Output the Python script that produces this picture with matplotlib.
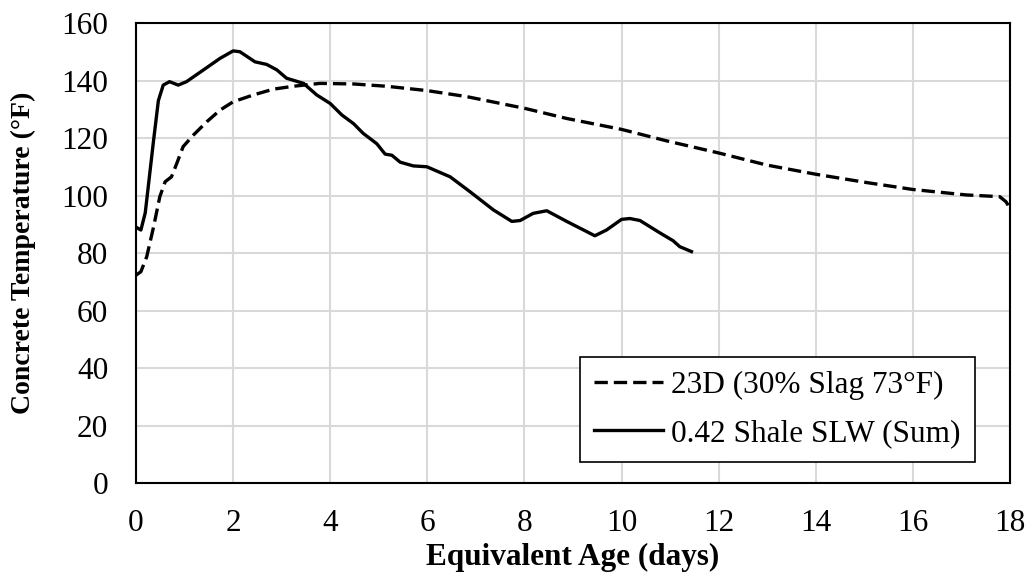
import numpy as np
import matplotlib.pyplot as plt

# 23D (30% Slag 73F) - dashed
age_23d = [0, 0.1, 0.22, 0.36, 0.49, 0.6, 0.73, 0.84, 0.97, 1.18, 1.46, 1.73,
           2.0, 2.42, 2.83, 3.24, 3.79, 4.48, 5.16, 5.99, 6.81, 8.01, 8.87,
           10.0, 10.93, 12.0, 12.99, 14.0, 15.05, 16.0, 17.1, 17.79, 17.92, 18.0]
temp_23d = [72.3, 73.5, 78.7, 89, 99.6, 104.8, 106.5, 111.2, 117, 121, 125.7,
            129.7, 132.6, 135, 137, 138, 139, 138.8, 138, 136.5, 134.4, 130.3,
            126.8, 123, 119, 114.8, 110.6, 107.4, 104.5, 102.1, 100.2, 99.6,
            97.8, 95.5]

# 0.42 Shale SLW (Sum) - solid
age_slw = [0, 0.1, 0.19, 0.36, 0.46, 0.56, 0.69, 0.87, 1.04, 1.39, 1.73, 2.0,
           2.14, 2.45, 2.69, 2.9, 3.1, 3.45, 3.72, 4.0, 4.24, 4.48, 4.68, 4.96,
           5.13, 5.27, 5.44, 5.71, 5.99, 6.47, 6.88, 7.36, 7.74, 7.91, 8.18,
           8.46, 8.87, 9.45, 9.69, 10.0, 10.17, 10.38, 10.79, 11.06, 11.2, 11.44]
temp_slw = [89, 88, 94, 119, 133, 138.4, 139.6, 138.4, 139.6, 143.7, 147.7,
            150.3, 150, 146.5, 145.6, 143.7, 140.8, 139, 135, 132, 128, 125,
            121.6, 118, 114.4, 114, 111.6, 110.3, 110, 106.5, 101.3, 95, 91,
            91.3, 93.8, 94.7, 91, 86, 88, 91.7, 92, 91.3, 87, 84.3, 82.2, 80.5]

plt.rcParams['font.family'] = ['Liberation Serif', 'DejaVu Serif']
fs = 22.5

fig = plt.figure(figsize=(10.29, 5.84), dpi=100)
ax = fig.add_axes([0.1322, 0.1729, 0.8493, 0.7877])

ax.plot(age_23d, temp_23d, color='black', lw=2.4, dashes=(4, 1.8),
        label='23D (30% Slag 73\u00b0F)')
ax.plot(age_slw, temp_slw, color='black', lw=2.4,
        label='0.42 Shale SLW (Sum)')

ax.set_xlim(0, 18)
ax.set_ylim(0, 160)
ax.set_xticks(np.arange(0, 19, 2))
ax.set_yticks(np.arange(0, 161, 20))
ax.grid(True, color='#d9d9d9', lw=1.5)
ax.set_axisbelow(True)
ax.tick_params(length=0, labelsize=fs)
ax.tick_params(axis='x', pad=19)
ax.tick_params(axis='y', pad=20)
for sp in ax.spines.values():
    sp.set_linewidth(1.5)

ax.set_xlabel('Equivalent Age (days)', fontsize=fs, fontweight='bold',
              labelpad=3)
ax.set_ylabel('Concrete Temperature (\u00b0F)', fontsize=20,
              fontweight='bold', labelpad=18)

leg = ax.legend(loc='lower right', bbox_to_anchor=(0.96, 0.0457),
                fontsize=fs, handlelength=2.2, handletextpad=0.27,
                fancybox=False, framealpha=1, borderpad=0.45,
                labelspacing=0.6, borderaxespad=0)
leg.get_frame().set_edgecolor('black')
leg.get_frame().set_linewidth(1.2)

fig.savefig('out.png', dpi=100)
